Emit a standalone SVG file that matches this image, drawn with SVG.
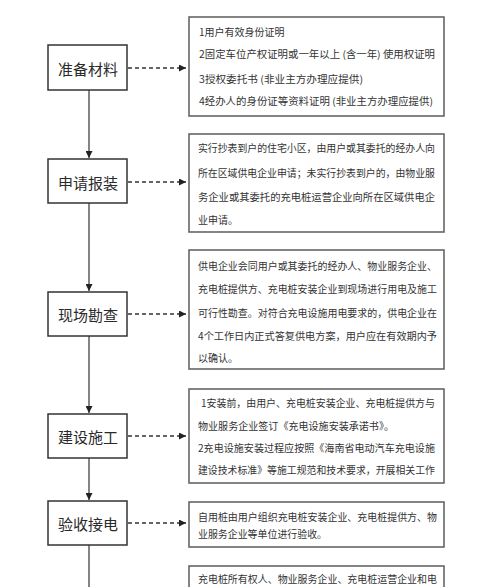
<svg xmlns="http://www.w3.org/2000/svg" width="500" height="587" viewBox="0 0 500 587">
<defs>
<marker id="ah" viewBox="0 0 10 10" refX="10" refY="5" markerWidth="7" markerHeight="7" orient="auto" markerUnits="userSpaceOnUse"><path d="M0,0 L10,5 L0,10 Z" fill="#222"/></marker>
</defs>
<style>
.step rect{fill:#fff;stroke:#333;stroke-width:1.5}
.step text{font-family:"Noto Sans CJK SC","Noto Sans",sans-serif;font-size:15px;fill:#2a2a2a;text-anchor:middle;dominant-baseline:central}
.note rect{fill:#fff;stroke:#666;stroke-width:1.6}
.note text{font-family:"Noto Sans CJK SC","Noto Sans",sans-serif;font-size:10px;fill:#333;dominant-baseline:central}
.flow{stroke:#333;stroke-width:1.2;fill:none;marker-end:url(#ah)}
.dash{stroke:#333;stroke-width:1.3;fill:none;stroke-dasharray:4 3;marker-end:url(#ah)}
</style>
<rect width="500" height="587" fill="#fff"/>
<g id="connectors">
<line class="flow" x1="89" y1="90" x2="89" y2="158"/>
<line class="flow" x1="89" y1="203" x2="89" y2="291"/>
<line class="flow" x1="89" y1="336" x2="89" y2="413"/>
<line class="flow" x1="89" y1="458" x2="89" y2="500"/>
<line x1="89" y1="545" x2="89" y2="587" stroke="#333" stroke-width="1.2"/>
<line class="dash" x1="128" y1="68" x2="186" y2="68"/>
<line class="dash" x1="128" y1="182" x2="186" y2="182"/>
<line class="dash" x1="128" y1="314" x2="186" y2="314"/>
<line class="dash" x1="128" y1="436" x2="186" y2="436"/>
<line class="dash" x1="128" y1="523" x2="186" y2="523"/>
</g>
<g id="s1" class="step"><rect x="48" y="45" width="79" height="45"/><text x="88" y="68">准备材料</text></g>
<g id="s2" class="step"><rect x="48" y="159" width="79" height="44"/><text x="88" y="182">申请报装</text></g>
<g id="s3" class="step"><rect x="48" y="292" width="79" height="44"/><text x="88" y="314">现场勘查</text></g>
<g id="s4" class="step"><rect x="48" y="414" width="79" height="44"/><text x="88" y="436">建设施工</text></g>
<g id="s5" class="step"><rect x="48" y="501" width="79" height="44"/><text x="88" y="523">验收接电</text></g>
<g id="n1" class="note"><rect x="189" y="17" width="255" height="99"/>
<text x="199" y="31">1用户有效身份证明</text>
<text x="199" y="53" textLength="236" lengthAdjust="spacingAndGlyphs">2固定车位产权证明或一年以上 (含一年) 使用权证明</text>
<text x="199" y="78" textLength="164" lengthAdjust="spacingAndGlyphs">3授权委托书 (非业主方办理应提供)</text>
<text x="199" y="100" textLength="234" lengthAdjust="spacingAndGlyphs">4经办人的身份证等资料证明 (非业主方办理应提供)</text>
</g>
<g id="n2" class="note"><rect x="189" y="134" width="255" height="98"/>
<text x="198" y="147" textLength="237" lengthAdjust="spacingAndGlyphs">实行抄表到户的住宅小区，由用户或其委托的经办人向</text>
<text x="198" y="172" textLength="237" lengthAdjust="spacingAndGlyphs">所在区域供电企业申请；未实行抄表到户的，由物业服</text>
<text x="198" y="196" textLength="237" lengthAdjust="spacingAndGlyphs">务企业或其委托的充电桩运营企业向所在区域供电企</text>
<text x="198" y="219">业申请。</text>
</g>
<g id="n3" class="note"><rect x="189" y="250" width="255" height="119"/>
<text x="198" y="265" textLength="239" lengthAdjust="spacingAndGlyphs">供电企业会同用户或其委托的经办人、物业服务企业、</text>
<text x="198" y="288" textLength="239" lengthAdjust="spacingAndGlyphs">充电桩提供方、充电桩安装企业到现场进行用电及施工</text>
<text x="198" y="312" textLength="239" lengthAdjust="spacingAndGlyphs">可行性勘查。对符合充电设施用电要求的，供电企业在</text>
<text x="198" y="335" textLength="239" lengthAdjust="spacingAndGlyphs">4个工作日内正式答复供电方案，用户应在有效期内予</text>
<text x="198" y="357">以确认。</text>
</g>
<g id="n4" class="note"><rect x="189" y="389" width="255" height="94"/>
<text x="201" y="402" textLength="234" lengthAdjust="spacingAndGlyphs">1安装前，由用户、充电桩安装企业、充电桩提供方与</text>
<text x="198" y="425" textLength="196" lengthAdjust="spacingAndGlyphs">物业服务企业签订《充电设施安装承诺书》。</text>
<text x="198" y="447" textLength="237" lengthAdjust="spacingAndGlyphs">2充电设施安装过程应按照《海南省电动汽车充电设施</text>
<text x="198" y="469" textLength="237" lengthAdjust="spacingAndGlyphs">建设技术标准》等施工规范和技术要求，开展相关工作</text>
</g>
<g id="n5" class="note"><rect x="189" y="502" width="255" height="45"/>
<text x="198" y="516" textLength="239" lengthAdjust="spacingAndGlyphs">自用桩由用户组织充电桩安装企业、充电桩提供方、物</text>
<text x="198" y="533" textLength="129" lengthAdjust="spacingAndGlyphs">业服务企业等单位进行验收。</text>
</g>
<g id="n6" class="note"><rect x="189" y="566" width="255" height="30"/>
<text x="198" y="578" textLength="239" lengthAdjust="spacingAndGlyphs">充电桩所有权人、物业服务企业、充电桩运营企业和电</text>
</g>
</svg>
